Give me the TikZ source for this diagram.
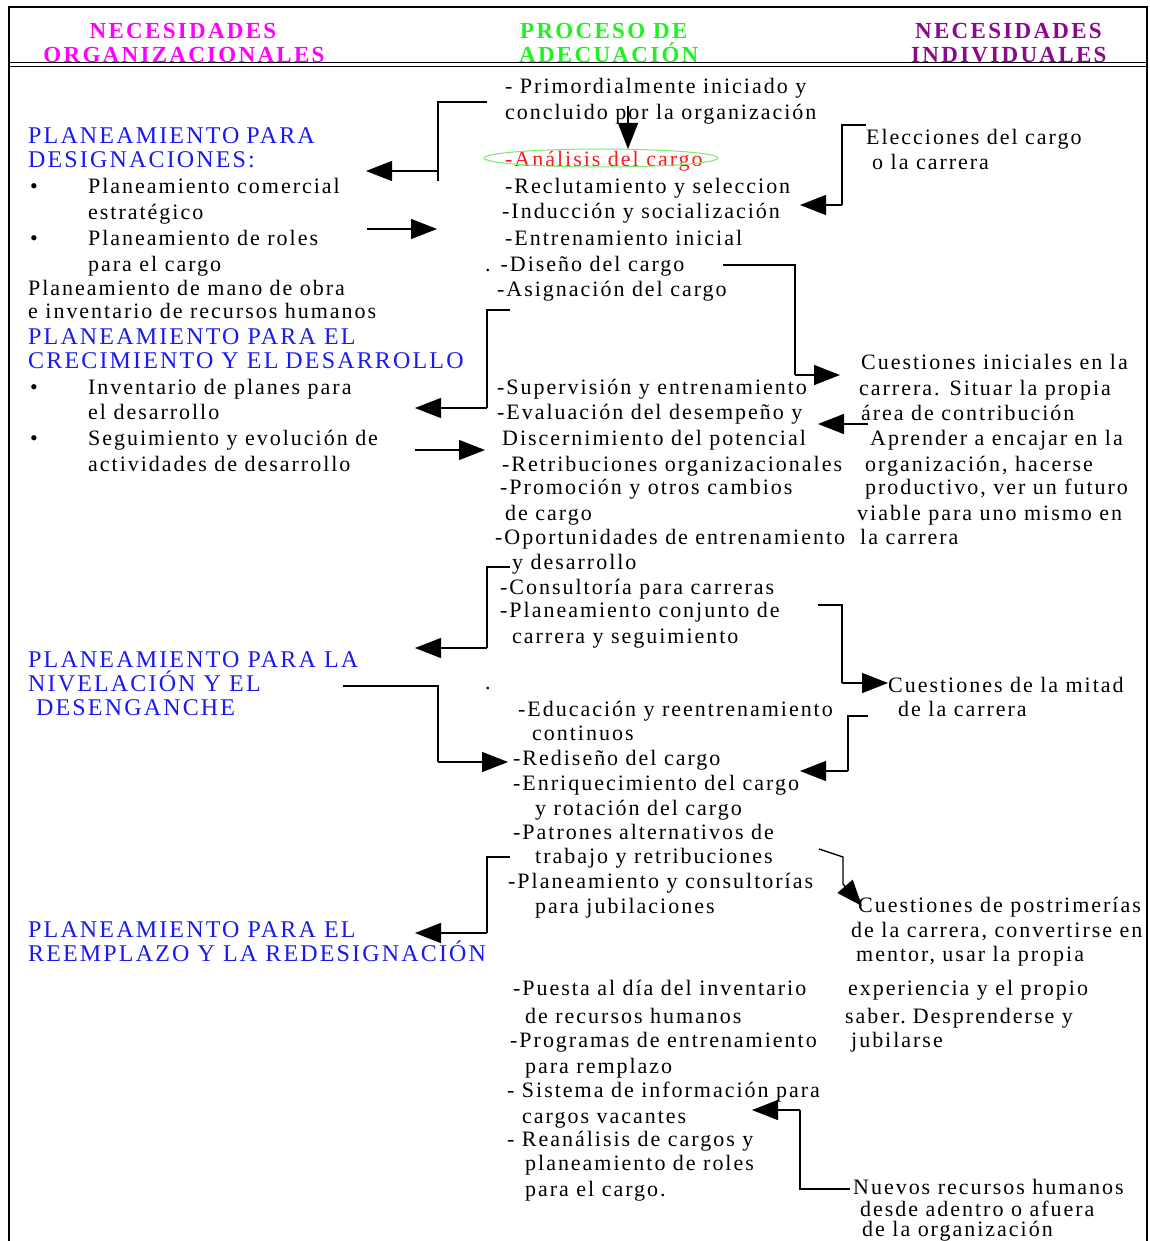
\documentclass[tikz,border=0pt]{standalone}
\usepackage{fontspec}
\setmainfont{Liberation Serif}
\newfontfamily\bodyfont{Liberation Serif}[LetterSpace=9]
\newfontfamily\titlefont{Liberation Serif}[LetterSpace=9]
\newfontfamily\headfont{Liberation Serif}[LetterSpace=10]
\usetikzlibrary{arrows.meta,shapes.geometric}
\definecolor{hmag}{HTML}{FF00FF}
\definecolor{hgreen}{HTML}{22F022}
\definecolor{hpurple}{HTML}{8B0A8B}
\definecolor{hblue}{HTML}{1A1AF0}
\definecolor{hred}{HTML}{FF1A1A}
\definecolor{ringgreen}{HTML}{7CEB6C}
\tikzset{
  txt/.style={anchor=base west, inner sep=0pt, font=\bodyfont\fontsize{22}{25}\selectfont},
  blu/.style={text=hblue, font=\titlefont\fontsize{24}{25}\selectfont},
  head/.style={anchor=base, inner sep=0pt, font=\headfont\bfseries\fontsize{23}{25}\selectfont},
  headl/.style={head, anchor=base west},
  wire/.style={line width=1.4pt},
  arr/.style={line width=1.4pt, -{Triangle[length=26pt,width=20pt]}},
  frame/.style={line width=1.3pt}
}
\newcommand\lineat[5][]{\node[txt,#1] (#2) at (#3,#4) {#5};}
\newcommand\wsp{\hspace{7pt}}
\begin{document}
\begin{tikzpicture}[x=1pt,y=-1pt]
\useasboundingbox (0,0) rectangle (1150,1241);
\fill[white] (0,0) rectangle (1150,1241);

% outer frame and header rule
\draw[frame] (9,1241) -- (9,7) -- (1147,7) -- (1147,1241);
\draw[line width=0.9pt] (9,62.5) -- (1147,62.5);
\draw[line width=0.9pt] (9,66) -- (1147,66);

% column headings
\node[head, text=hmag] (h1a) at (183,39) {NECESIDADES};
\node[head, text=hmag] (h1b) at (184,63) {ORGANIZACIONALES};
\node[headl, text=hgreen] (h2a) at (520,39) {PROCESO DE};
\node[headl, text=hgreen] (h2b) at (519,63) {ADECUACIÓN};
\node[headl, text=hpurple] (h3a) at (915,39) {NECESIDADES};
\node[headl, text=hpurple] (h3b) at (911,63) {INDIVIDUALES};

% ---- organisational needs ----
\lineat[blu]{d1}{28}{144}{PLANEAMIENTO\wsp PARA}
\lineat[blu]{d2}{28}{168}{DESIGNACIONES:}
\lineat{bu1}{30}{194}{•}
\lineat{d3}{88}{194}{Planeamiento comercial}
\lineat{d4}{88}{220}{estratégico}
\lineat{bu2}{30}{245}{•}
\lineat{d5}{88}{245}{Planeamiento de roles}
\lineat{d6}{88}{271}{para el cargo}
\lineat{d7}{28}{295}{Planeamiento de mano de obra}
\lineat{d8}{28}{318}{e inventario de recursos humanos}
\lineat[blu]{g1}{28}{344}{PLANEAMIENTO PARA EL}
\lineat[blu]{g2}{28}{368}{CRECIMIENTO Y EL\wsp DESARROLLO}
\lineat{bu3}{30}{394}{•}
\lineat{g3}{88}{394}{Inventario de planes para}
\lineat{g4}{88}{419}{el desarrollo}
\lineat{bu4}{30}{445}{•}
\lineat{g5}{88}{445}{Seguimiento y evolución de}
\lineat{g6}{88}{471}{actividades de desarrollo}
\lineat[blu]{n1}{28}{667}{PLANEAMIENTO PARA LA}
\lineat[blu]{n2}{28}{691}{NIVELACIÓN Y EL}
\lineat[blu]{n3}{36}{715}{DESENGANCHE}
\lineat[blu]{r1}{28}{937}{PLANEAMIENTO PARA EL}
\lineat[blu]{r2}{28}{961}{REEMPLAZO Y LA REDESIGNACIÓN}

% ---- matching process ----
\lineat{p1}{505}{94}{- Primordialmente iniciado y}
\lineat{p2}{505}{120}{concluido por la organización}
\lineat[text=hred]{p3}{505}{167}{-Análisis del cargo}
\lineat{p4}{505}{194}{-Reclutamiento y seleccion}
\lineat{p5}{502}{219}{-Inducción y socialización}
\lineat{p6}{505}{245}{-Entrenamiento inicial}
\lineat{p7}{485}{271}{. -Diseño del cargo}
\lineat{p8}{497}{296}{-Asignación del cargo}
\lineat{q1}{497}{394}{-Supervisión y entrenamiento}
\lineat{q2}{497}{419}{-Evaluación del desempeño y}
\lineat{q3}{502}{445}{Discernimiento del potencial}
\lineat{q4}{502}{471}{-Retribuciones organizacionales}
\lineat{q5}{500}{494}{-Promoción y otros cambios}
\lineat{q6}{505}{520}{de cargo}
\lineat{q7}{495}{544}{-Oportunidades de entrenamiento}
\lineat{q8}{512}{569}{y desarrollo}
\lineat{q9}{500}{594}{-Consultoría para carreras}
\lineat{q10}{500}{617}{-Planeamiento conjunto de}
\lineat{q11}{512}{643}{carrera y seguimiento}
\lineat{dot}{485}{689}{.}
\lineat{s1}{518}{716}{-Educación y reentrenamiento}
\lineat{s2}{532}{740}{continuos}
\lineat{s3}{513}{765}{-Rediseño del cargo}
\lineat{s4}{513}{790}{-Enriquecimiento del cargo}
\lineat{s5}{535}{815}{y rotación del cargo}
\lineat{s6}{513}{839}{-Patrones\wsp alternativos de}
\lineat{s7}{535}{863}{trabajo y retribuciones}
\lineat{s8}{508}{888}{-Planeamiento y consultorías}
\lineat{s9}{535}{913}{para jubilaciones}
\lineat{t1}{513}{995}{-Puesta al día del inventario}
\lineat{t2}{525}{1023}{de recursos humanos}
\lineat{t3}{510}{1047}{-Programas de entrenamiento}
\lineat{t4}{525}{1073}{para remplazo}
\lineat{t5}{507}{1097}{- Sistema de información para}
\lineat{t6}{522}{1123}{cargos vacantes}
\lineat{t7}{507}{1146}{- Reanálisis de cargos y}
\lineat{t8}{525}{1170}{planeamiento de roles}
\lineat{t9}{525}{1196}{para el cargo.}

% highlight ring
\node[ellipse, draw=ringgreen, line width=1pt, minimum width=234pt, minimum height=18pt, inner sep=0pt] (ring) at (601,158) {};

% ---- individual needs ----
\lineat{e1}{866}{145}{Elecciones del cargo}
\lineat{e2}{872}{170}{o la carrera}
\lineat{i1}{861}{369}{Cuestiones iniciales en la}
\lineat{i2}{859}{395}{carrera. Situar la propia}
\lineat{i3}{861}{420}{área de contribución}
\lineat{i4}{870}{445}{Aprender a encajar en la}
\lineat{i5}{865}{471}{organización, hacerse}
\lineat{i6}{865}{494}{productivo, ver un futuro}
\lineat{i7}{857}{520}{viable para uno mismo en}
\lineat{i8}{860}{544}{la carrera}
\lineat{m1}{888}{692}{Cuestiones de la mitad}
\lineat{m2}{898}{716}{de la carrera}
\lineat{k1}{858}{912}{Cuestiones de postrimerías}
\lineat{k2}{851}{937}{de la carrera, convertirse en}
\lineat{k3}{856}{961}{mentor, usar la propia}
\lineat{k4}{848}{995}{experiencia y el propio}
\lineat{k5}{845}{1023}{saber.\wsp Desprenderse y}
\lineat{k6}{851}{1047}{jubilarse}
\lineat{u1}{853}{1194}{Nuevos recursos humanos}
\lineat{u2}{860}{1216}{desde adentro o afuera}
\lineat{u3}{862}{1236}{de la organización}

% ---- connector points ----
\coordinate (c1s) at (487,102); \coordinate (c1b) at (438,181); \coordinate (c1e) at (366,171);
\coordinate (c2s) at (367,229); \coordinate (c2e) at (437,229);
\coordinate (c3s) at (628,106); \coordinate (c3e) at (628,149);
\coordinate (c4s) at (866,125); \coordinate (c4b) at (842,205); \coordinate (c4e) at (800,205);
\coordinate (c5s) at (723,265); \coordinate (c5b) at (795,375); \coordinate (c5e) at (840,375);
\coordinate (c6s) at (510,310); \coordinate (c6b) at (487,408); \coordinate (c6e) at (415,408);
\coordinate (c7s) at (415,450); \coordinate (c7e) at (485,450);
\coordinate (c8s) at (868,424); \coordinate (c8e) at (818,424);
\coordinate (c9s) at (510,567); \coordinate (c9b) at (487,648); \coordinate (c9e) at (415,648);
\coordinate (c10s) at (818,605); \coordinate (c10b) at (842,683); \coordinate (c10e) at (888,683);
\coordinate (c11s) at (343,686); \coordinate (c11b) at (438,762); \coordinate (c11e) at (508,762);
\coordinate (c12s) at (868,716); \coordinate (c12b) at (848,771); \coordinate (c12e) at (800,771);
\coordinate (c13s) at (819,849); \coordinate (c13k) at (843,857); \coordinate (c13b) at (843,884); \coordinate (c13e) at (862,906);
\coordinate (c14s) at (510,857); \coordinate (c14b) at (487,933); \coordinate (c14e) at (415,933);
\coordinate (c15s) at (850,1189); \coordinate (c15b) at (800,1110); \coordinate (c15e) at (752,1110);

% ---- connectors ----
\draw[wire] (c1s) -| (c1b);
\draw[arr] (c1e -| c1b) -- (c1e);
\draw[arr] (c2s) -- (c2e);
\draw[arr] (c3s) -- (c3e);
\draw[wire] (c4s) -| (c4b);
\draw[arr] (c4b) -- (c4e);
\draw[wire] (c5s) -| (c5b);
\draw[arr] (c5b) -- (c5e);
\draw[wire] (c6s) -| (c6b);
\draw[arr] (c6b) -- (c6e);
\draw[arr] (c7s) -- (c7e);
\draw[arr] (c8s) -- (c8e);
\draw[wire] (c9s) -| (c9b);
\draw[arr] (c9b) -- (c9e);
\draw[wire] (c10s) -| (c10b);
\draw[arr] (c10b) -- (c10e);
\draw[wire] (c11s) -| (c11b);
\draw[arr] (c11b) -- (c11e);
\draw[wire] (c12s) -| (c12b);
\draw[arr] (c12b) -- (c12e);
\draw[wire] (c13s) -- (c13k) -- (c13b);
\draw[arr] (c13b) -- (c13e);
\draw[wire] (c14s) -| (c14b);
\draw[arr] (c14b) -- (c14e);
\draw[wire] (c15s) -| (c15b);
\draw[arr] (c15b) -- (c15e);
\end{tikzpicture}
\end{document}
